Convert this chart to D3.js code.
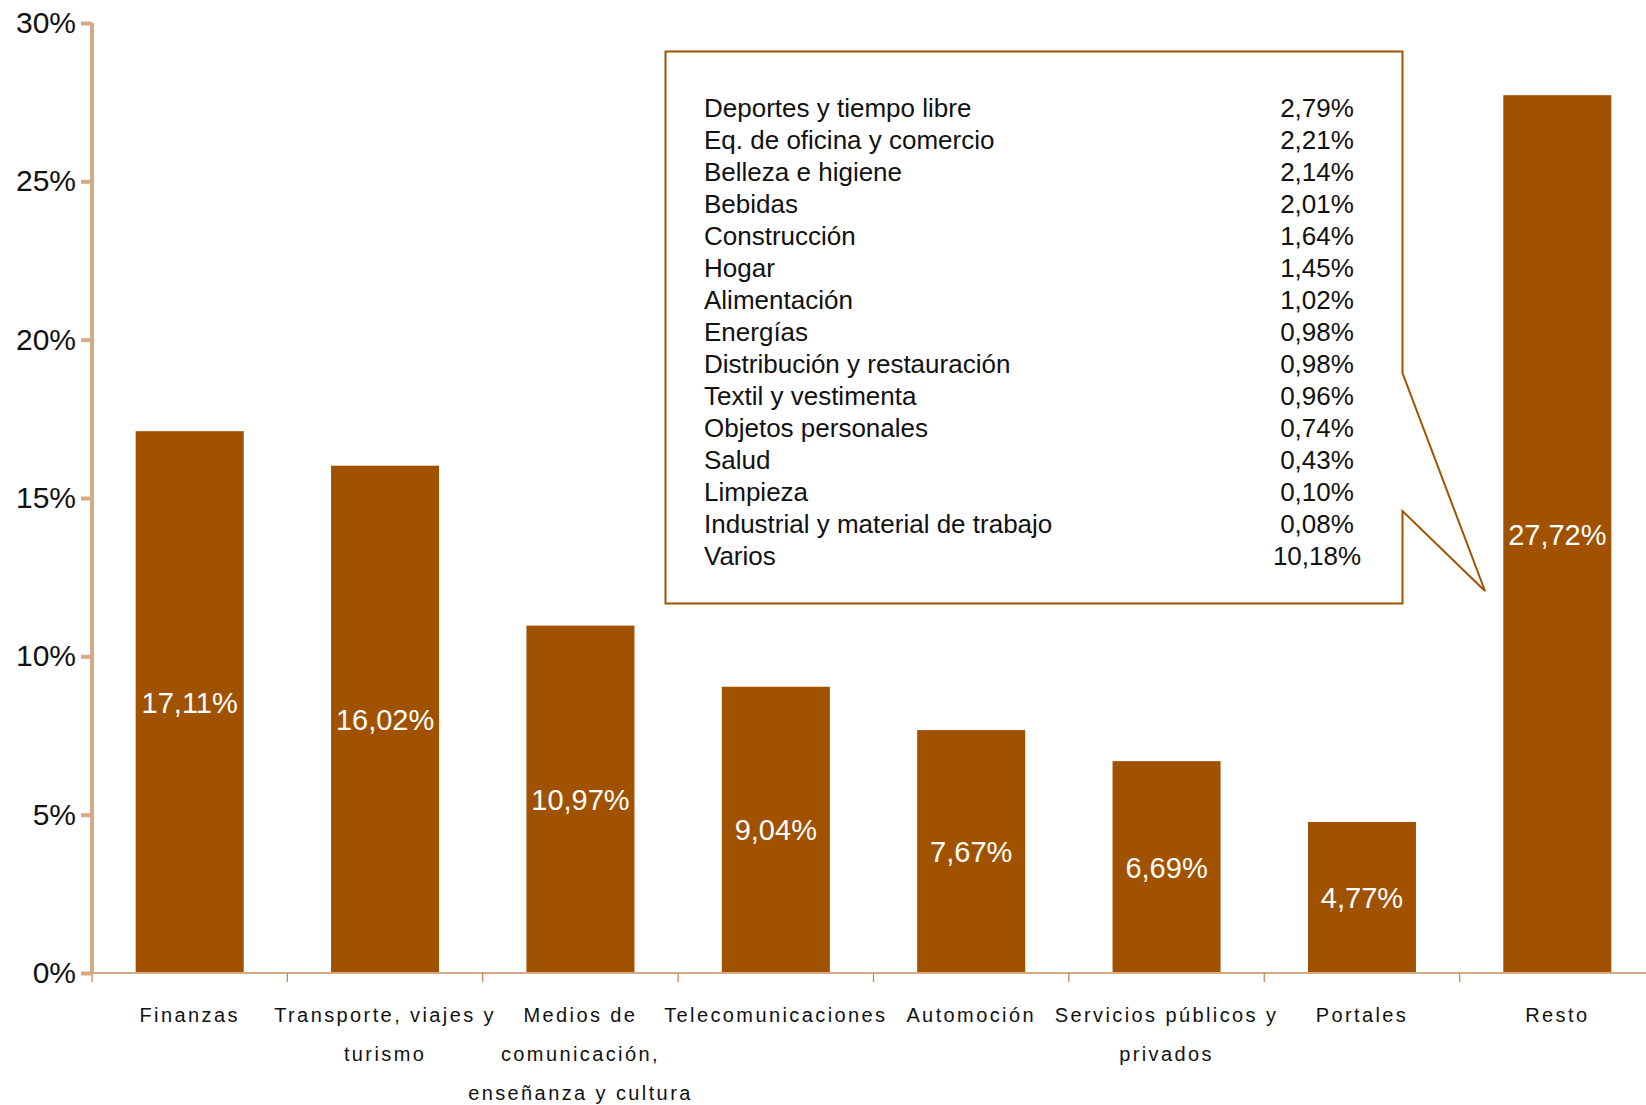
<!DOCTYPE html>
<html>
<head>
<meta charset="utf-8">
<script src="https://cdn.jsdelivr.net/npm/d3@7"></script>
<style>
  html, body { margin: 0; padding: 0; background: #ffffff; }
  svg { display: block; font-family: "Liberation Sans", Arial, sans-serif; }
</style>
</head>
<body>
<svg id="chart" width="1646" height="1105"></svg>
<script>
// Sectors, share of total (%)
const categories = ["Finanzas", "Transporte", "Medios", "Telecomunicaciones",
  "Automoción", "Servicios", "Portales", "Resto"];
const categoryLines = [
  ["Finanzas"],
  ["Transporte, viajes y", "turismo"],
  ["Medios de", "comunicación,", "enseñanza y cultura"],
  ["Telecomunicaciones"],
  ["Automoción"],
  ["Servicios públicos y", "privados"],
  ["Portales"],
  ["Resto"]
];
const values = [17.11, 16.02, 10.97, 9.04, 7.67, 6.69, 4.77, 27.72];

// Breakdown of "Resto"
const restoItems = ["Deportes y tiempo libre", "Eq. de oficina y comercio", "Belleza e higiene",
  "Bebidas", "Construcción", "Hogar", "Alimentación", "Energías",
  "Distribución y restauración", "Textil y vestimenta", "Objetos personales",
  "Salud", "Limpieza", "Industrial y material de trabajo", "Varios"];
const restoValues = [2.79, 2.21, 2.14, 2.01, 1.64, 1.45, 1.02, 0.98, 0.98, 0.96, 0.74,
  0.43, 0.10, 0.08, 10.18];

const yTicks = [0, 5, 10, 15, 20, 25, 30];

const fmt = v => v.toFixed(2).replace(".", ",") + "%";

const BAR = "#A05200";
const AXIS = "#D4AA84";
const TICKX = "#C8884A";

const svg = d3.select("#chart");

const x = d3.scaleBand().domain(categories).range([92, 1655]).paddingInner(0).paddingOuter(0);
const y = d3.scaleLinear().domain([0, 30]).range([973, 23]);
const barW = x.bandwidth() * 0.553;

// bars
svg.append("g").selectAll("rect").data(values).join("rect")
  .attr("x", (d, i) => x(categories[i]) + (x.bandwidth() - barW) / 2)
  .attr("y", d => y(d))
  .attr("width", barW)
  .attr("height", d => y(0) - y(d))
  .attr("fill", BAR);

// value labels inside bars
svg.append("g").selectAll("text").data(values).join("text")
  .attr("x", (d, i) => x(categories[i]) + x.bandwidth() / 2)
  .attr("y", d => (y(d) + y(0)) / 2)
  .attr("dy", "0.36em")
  .attr("text-anchor", "middle")
  .attr("fill", "#ffffff")
  .style("font-size", "29px")
  .text(d => fmt(d));

// x axis: baseline and category separators
const xg = svg.append("g");
xg.append("line")
  .attr("x1", 92).attr("x2", 1655)
  .attr("y1", y(0)).attr("y2", y(0))
  .attr("stroke", AXIS).attr("stroke-width", 2);
xg.selectAll("line.sep").data(categories).join("line")
  .attr("class", "sep")
  .attr("x1", d => x(d)).attr("x2", d => x(d))
  .attr("y1", y(0)).attr("y2", y(0) + 9)
  .attr("stroke", TICKX).attr("stroke-width", 1.3);

// category labels
const lab = svg.append("g")
  .style("font-size", "20px")
  .style("letter-spacing", "2.4px")
  .attr("fill", "#111");
categories.forEach((c, i) => {
  const t = lab.append("text")
    .attr("text-anchor", "middle")
    .attr("x", x(c) + x.bandwidth() / 2)
    .attr("y", 1022);
  categoryLines[i].forEach((ln, k) => {
    t.append("tspan")
      .attr("x", x(c) + x.bandwidth() / 2)
      .attr("y", 1022 + k * 39)
      .text(ln);
  });
});

// y axis
const yAxis = d3.axisLeft(y).tickValues(yTicks).tickFormat(d => d + "%")
  .tickSize(11).tickPadding(5).tickSizeOuter(0);
const yg = svg.append("g").attr("transform", "translate(92,0)").call(yAxis);
yg.select(".domain").attr("stroke", AXIS).attr("stroke-width", 4)
  .attr("d", `M0,${y(30)}V${y(0)}`);
yg.selectAll(".tick line").attr("stroke", AXIS).attr("stroke-width", 4);
yg.selectAll(".tick text")
  .attr("fill", "#111")
  .style("font-size", "30px")
  .style("font-family", "'Liberation Sans', Arial, sans-serif");

// callout box with the breakdown of "Resto"
const bx0 = 665.5, bx1 = 1402.5, by0 = 51.5, by1 = 603.5;
const tip = [1485, 591];
const calloutPath = d3.path();
calloutPath.moveTo(bx0, by0);
calloutPath.lineTo(bx1, by0);
calloutPath.lineTo(bx1, 373);
calloutPath.lineTo(tip[0], tip[1]);
calloutPath.lineTo(bx1, 511);
calloutPath.lineTo(bx1, by1);
calloutPath.lineTo(bx0, by1);
calloutPath.closePath();
svg.append("path")
  .attr("d", calloutPath.toString())
  .attr("fill", "#ffffff")
  .attr("stroke", BAR)
  .attr("stroke-width", 2)
  .attr("stroke-linejoin", "miter");

const rowY = d3.scaleLinear().domain([0, 1]).range([108, 140]);
const leg = svg.append("g").style("font-size", "26px").attr("fill", "#111");
leg.selectAll("text.name").data(restoItems).join("text")
  .attr("class", "name")
  .attr("x", 704)
  .attr("y", (d, i) => rowY(i))
  .attr("dy", "0.36em")
  .text(d => d);
leg.selectAll("text.val").data(restoValues).join("text")
  .attr("class", "val")
  .attr("x", 1317)
  .attr("y", (d, i) => rowY(i))
  .attr("dy", "0.36em")
  .attr("text-anchor", "middle")
  .text(d => fmt(d));
</script>
</body>
</html>
